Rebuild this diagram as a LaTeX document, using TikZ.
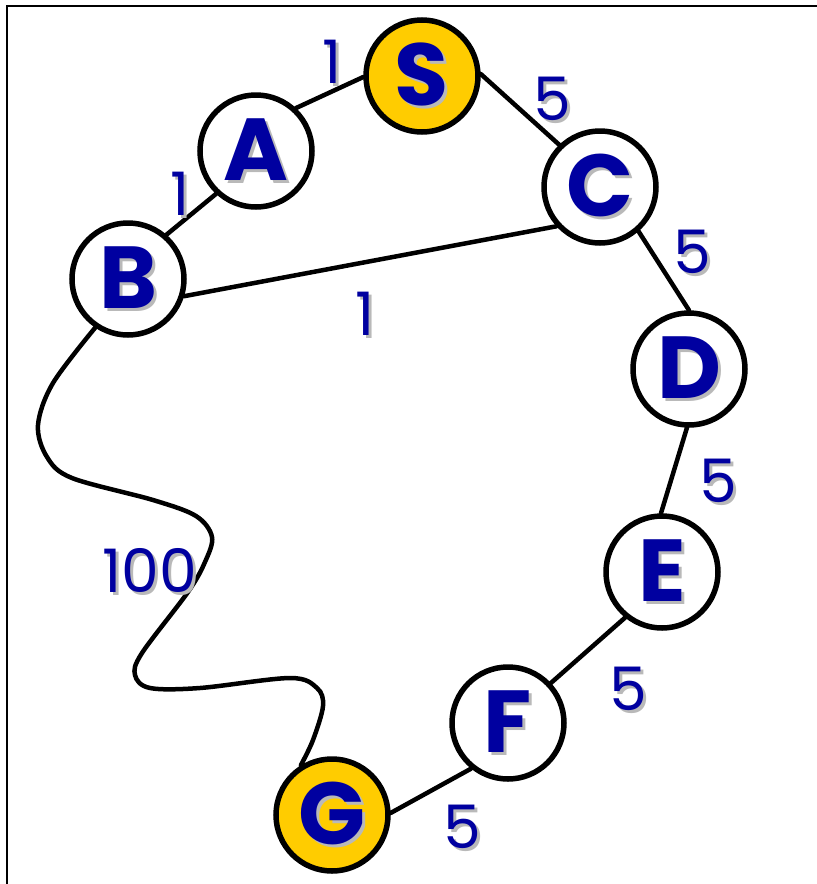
\documentclass[tikz,border=0pt]{standalone}
\usepackage{fontspec}
\setmainfont{Poppins}
\usetikzlibrary{backgrounds}
\definecolor{txtblue}{RGB}{0,0,160}
\definecolor{shgray}{RGB}{185,185,185}
\definecolor{gold}{RGB}{255,204,0}
\newcommand\shtext[1]{\makebox[0pt][l]{\kern3pt\raisebox{-3pt}{\color{shgray}#1}}{\color{txtblue}#1}}
\begin{document}
\begin{tikzpicture}[x=1pt,y=-1pt,
  vert/.style={circle,draw=black,line width=5.5pt,fill=white,minimum size=112pt,inner sep=0pt,
     font=\fontsize{88}{88}\selectfont\bfseries},
  goal/.style={vert,fill=gold},
  edge/.style={line width=4.5pt,line cap=round},
  wt/.style={inner sep=0pt,font=\fontsize{60}{60}\selectfont}]
\useasboundingbox (0,0) rectangle (817,884);
\draw[line width=2.5pt] (7,884) -- (7,6) -- (817,6);
\coordinate (w1) at (38,425);
\node[goal] (S) at (422,76) {\shtext{S}};
\node[vert] (A) at (256,151) {\shtext{A}};
\node[vert] (C) at (600,187) {\shtext{C}};
\node[vert] (B) at (128,279) {\shtext{B}};
\node[vert] (D) at (689,369) {\shtext{D}};
\node[vert] (E) at (662,572) {\shtext{E}};
\node[vert] (F) at (508,723) {\shtext{F}};
\node[goal] (G) at (332,815) {\shtext{G}};
\begin{scope}[on background layer]
\draw[edge] (A.47) -- (S.181);
\draw[edge] (S.2) -- (C.134);
\draw[edge] (A.227) -- (B.49);
\draw[edge] (B.-17) -- (C.222);
\draw[edge] (C.-49) -- (D.90);
\draw[edge] (D.-92) -- (E.91);
\draw[edge] (E.231) -- (F.43);
\draw[edge] (F.231) -- (G.2);
\draw[edge] plot[smooth,tension=0.55] coordinates {(B.236) (53,383) (w1) (47,457) (72,478) (153,500) (196,516) (212,537) (205,562) (188,592) (142,653) (135,675) (150,688) (200,688) (290,678) (317,688) (323,706) (313,740) (G.122)};
\end{scope}
\node[wt] (l1) at (332,63) {\shtext{1}};
\node[wt] (l2) at (552,100) {\shtext{5}};
\node[wt] (l3) at (180,195) {\shtext{1}};
\node[wt] (l4) at (692,253) {\shtext{5}};
\node[wt] (l5) at (365,315) {\shtext{1}};
\node[wt] (l6) at (718,482) {\shtext{5}};
\node[wt] (l7) at (150,572) {\shtext{100}};
\node[wt] (l8) at (628,690) {\shtext{5}};
\node[wt] (l9) at (462,828) {\shtext{5}};
\end{tikzpicture}
\end{document}
